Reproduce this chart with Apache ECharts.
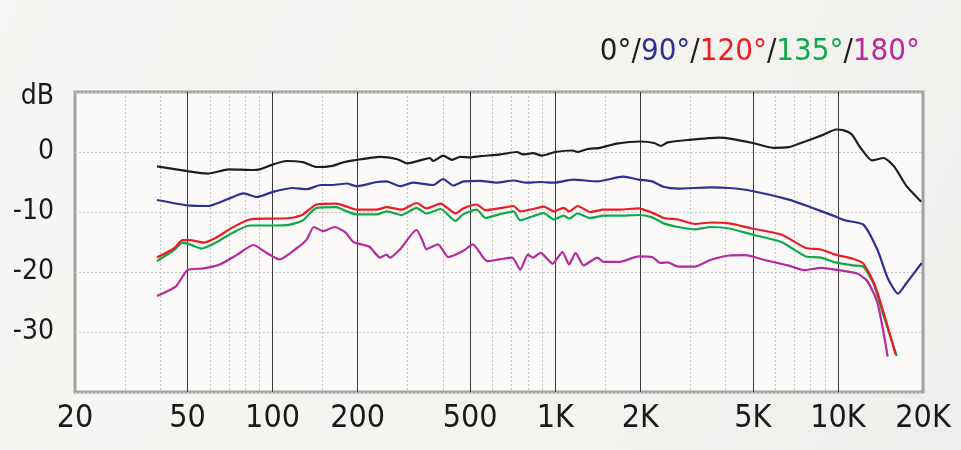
<!DOCTYPE html>
<html>
<head>
<meta charset="utf-8">
<script src="https://cdn.jsdelivr.net/npm/echarts@6/dist/echarts.min.js"></script>
<style>
html,body{margin:0;padding:0;background:#f6f5f3;}
#c{width:961px;height:450px;}
</style>
</head>
<body>
<div id="c"></div>
<script>
// ---- data (frequency in Hz, level in dB) ----
var xTickLabels = [20, 50, 100, 200, 500, 1000, 2000, 5000, 10000, 20000];
var xMajorLines = [50, 100, 200, 500, 1000, 2000, 5000, 10000];
var xMinorLines = [30, 40, 60, 70, 80, 90, 150, 300, 400, 600, 700, 800, 900, 1500, 3000, 4000, 6000, 7000, 8000, 9000];
var yTicks = [10, 0, -10, -20, -30, -40];

var freq0 = [39,50,59,70,85,90,100,112,128,143,163,177,193,240,276,300,333,360,370,401,432,461,500,543,640,732,769,834,896,1000,1150,1200,1300,1440,1650,2000,2240,2360,2500,2940,3800,4200,5000,5900,6700,7700,8900,9850,10500,11200,12000,13200,14500,15800,17500,19700];
var db0 = [-2.4,-3.2,-3.6,-2.9,-3.0,-2.9,-2.1,-1.5,-1.7,-2.5,-2.3,-1.75,-1.4,-0.8,-1.2,-1.9,-1.4,-1.0,-1.5,-0.6,-1.3,-0.8,-0.9,-0.7,-0.4,0,-0.4,-0.2,-0.6,0,0.25,0,0.5,0.7,1.4,1.75,1.5,1.0,1.6,2.0,2.4,2.2,1.5,0.7,0.8,1.8,2.9,3.75,3.6,2.9,0.75,-1.4,-1.0,-2.4,-5.7,-8.3];

var freq90 = [39,50,59,69,79,88,101,118,132,148,163,183,198,234,253,282,314,370,401,436,475,543,618,712,784,887,990,1160,1410,1740,1970,2200,2410,2720,3540,4130,4970,6660,8000,9620,10600,12300,13800,15000,16300,17500,19800];
var db90 = [-8.0,-8.9,-9.0,-7.9,-6.9,-7.5,-6.6,-6.0,-6.2,-5.5,-5.5,-5.25,-5.7,-5.0,-4.9,-5.7,-5.1,-5.5,-4.5,-5.6,-4.9,-4.8,-5.1,-4.75,-5.1,-5.0,-5.1,-4.6,-4.9,-4.1,-4.6,-4.9,-5.8,-6.1,-5.9,-6.0,-6.5,-7.9,-9.2,-10.6,-11.4,-12.1,-16.3,-21,-23.6,-21.8,-18.5];

var freq120 = [39,45,48,51,57,63,72,83,99,115,128,143,168,183,198,234,253,286,323,350,393,444,472,527,567,633,712,752,834,910,990,1070,1120,1200,1330,1480,1690,1970,2200,2420,2720,3120,3540,4130,4970,6300,7700,8700,9800,11300,12300,13400,14400,16000];
var db120 = [-17.6,-16.0,-14.7,-14.7,-15.1,-14.3,-12.6,-11.25,-11.1,-11.0,-10.4,-8.75,-8.6,-9.1,-9.6,-9.6,-9.2,-9.6,-8.5,-9.4,-8.6,-10.25,-9.4,-8.75,-9.7,-9.4,-9.0,-9.9,-9.5,-9.1,-9.9,-9.3,-9.9,-9.0,-10.0,-9.6,-9.6,-9.4,-10.1,-11.0,-11.25,-12.0,-11.75,-11.9,-12.75,-13.75,-16.0,-16.25,-17.1,-17.8,-18.6,-21.8,-26.25,-33.75];

var freq135 = [39,45,48,51,56,63,72,83,99,115,128,143,168,183,198,234,253,286,323,350,393,444,472,527,567,633,712,752,834,910,990,1070,1120,1200,1330,1480,1690,1970,2200,2420,2720,3120,3540,4130,4970,6300,7700,8700,9800,11300,12300,13400,14400,16150];
var db135 = [-18.2,-16.25,-15.1,-15.4,-16.1,-15.1,-13.5,-12.25,-12.25,-12.1,-11.4,-9.3,-9.2,-9.9,-10.4,-10.4,-9.9,-10.5,-9.3,-10.25,-9.5,-11.5,-10.4,-9.6,-11.0,-10.4,-9.9,-11.4,-10.7,-10.2,-11.25,-10.6,-11.1,-10.25,-11.0,-10.6,-10.6,-10.5,-10.9,-11.9,-12.5,-12.9,-12.5,-12.75,-13.75,-15.0,-17.4,-17.6,-18.4,-18.9,-19.1,-22.1,-26.8,-34.0];

var freq180 = [39,45.5,50,57,65,75,85.5,95,106,122,132,140,151,166,181,193,220,240,253,260,282,323,340,350,385,418,472,511,575,633,704,752,800,834,887,979,1060,1120,1180,1260,1410,1480,1690,1970,2200,2360,2500,2720,3120,3540,4130,4700,5500,6660,7600,8700,9800,11700,12700,13800,15000];
var db180 = [-24.0,-22.4,-19.7,-19.4,-18.75,-17.1,-15.5,-16.8,-17.9,-16.0,-14.6,-12.5,-13.2,-12.5,-13.4,-15.0,-15.8,-17.6,-17.1,-17.6,-16.25,-13.0,-14.9,-16.2,-15.4,-17.5,-16.5,-15.4,-18.2,-17.9,-17.6,-19.6,-17.1,-17.6,-16.8,-18.6,-16.7,-18.75,-16.8,-18.9,-17.6,-18.3,-18.3,-17.4,-17.5,-18.5,-18.4,-19.1,-19.1,-18.0,-17.25,-17.2,-18.0,-18.9,-19.7,-19.3,-19.6,-20.25,-21.5,-25.1,-34.1];

var seriesNames = ['0°', '90°', '120°', '135°', '180°'];
var seriesColors = ['#1e1e1e', '#2e3192', '#ed1c24', '#0fa84a', '#b8289e'];
var seriesFreqs = [freq0, freq90, freq120, freq135, freq180];
var seriesDbs = [db0, db90, db120, db135, db180];

function pairs(f, d) { return f.map(function (v, i) { return [v, d[i]]; }); }

var FONT = "'Liberation Sans Narrow', 'DejaVu Sans Condensed', 'Liberation Sans', sans-serif";

var chart = echarts.init(document.getElementById('c'), null, {renderer: 'canvas'});

var series = [];
[4, 3, 2, 1, 0].forEach(function (i) {
  series.push({
    name: seriesNames[i],
    type: 'line',
    xAxisIndex: 0,
    yAxisIndex: 0,
    data: pairs(seriesFreqs[i], seriesDbs[i]),
    showSymbol: false,
    smooth: 0.2,
    lineStyle: {color: seriesColors[i], width: 2.2},
    itemStyle: {color: seriesColors[i]},
    animation: false,
    z: 5 + (4 - i)
  });
});

var TS = 31; // title size
chart.setOption({
  backgroundColor: {
    type: 'linear', x: 0, y: 0, x2: 1, y2: 1,
    colorStops: [
      {offset: 0, color: '#f7f6f4'},
      {offset: 0.6, color: '#f5f3f0'},
      {offset: 1, color: '#efeeec'}
    ]
  },
  animation: false,
  title: {
    right: 36,
    top: 31,
    text: '{k|0°}{k|/}{b|90°}{k|/}{r|120°}{k|/}{g|135°}{k|/}{m|180°}',
    textStyle: {
      fontFamily: FONT,
      fontSize: TS,
      fontWeight: 'normal',
      rich: {
        k: {color: seriesColors[0], fontSize: TS, fontFamily: FONT},
        b: {color: seriesColors[1], fontSize: TS, fontFamily: FONT},
        r: {color: seriesColors[2], fontSize: TS, fontFamily: FONT},
        g: {color: seriesColors[3], fontSize: TS, fontFamily: FONT},
        m: {color: seriesColors[4], fontSize: TS, fontFamily: FONT}
      }
    }
  },
  grid: {
    left: 75, right: 38, top: 92, bottom: 58,
    show: true,
    backgroundColor: '#fbfaf8',
    borderColor: '#a2a2a2',
    borderWidth: 3,
    z: 0
  },
  xAxis: [
    {
      type: 'log', logBase: 10, min: 20, max: 20000,
      axisLine: {show: false},
      axisTick: {show: false, customValues: xMajorLines},
      axisLabel: {
        show: true,
        customValues: xTickLabels,
        margin: 11,
        fontFamily: FONT,
        fontSize: 32,
        color: '#1a1a1a',
        formatter: function (v) { return v >= 1000 ? (v / 1000) + 'K' : String(v); }
      },
      splitLine: {show: true, lineStyle: {color: '#3a3a3a', width: 1, type: 'solid'}},
      z: 2
    },
    {
      type: 'log', logBase: 10, min: 20, max: 20000,
      axisLine: {show: false},
      axisTick: {show: false, customValues: xMinorLines},
      axisLabel: {show: false},
      splitLine: {show: true, lineStyle: {color: '#c4c4c4', width: 1, type: [2, 2]}},
      z: 1
    }
  ],
  yAxis: {
    type: 'value', min: -40, max: 10, interval: 10,
    axisLine: {show: false},
    axisTick: {show: false},
    axisLabel: {
      margin: 21,
      fontFamily: FONT,
      fontSize: 28,
      color: '#1a1a1a',
      formatter: function (v) {
        if (v === 10) return '{db|dB}';
        if (v === -40) return '';
        return String(v);
      },
      rich: {db: {fontFamily: FONT, fontSize: 28, color: '#1a1a1a', padding: [10, 0, 0, 0]}}
    },
    splitLine: {show: true, lineStyle: {color: '#c8c8c8', width: 1, type: [2, 2]}}
  },
  series: series
});
</script>
</body>
</html>
